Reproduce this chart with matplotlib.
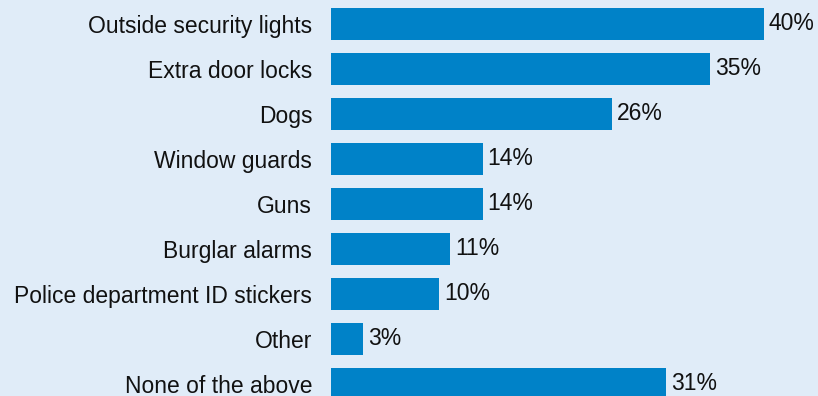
import matplotlib.pyplot as plt

plt.rcParams['font.family'] = ['Liberation Sans', 'DejaVu Sans']

measures = ["Outside security lights", "Extra door locks", "Dogs", "Window guards",
            "Guns", "Burglar alarms", "Police department ID stickers", "Other",
            "None of the above"]
percent = [40, 35, 26, 14, 14, 11, 10, 3, 31]

bg = "#e0ecf8"
bar_color = "#0082c8"

fig = plt.figure(figsize=(8.18, 3.96), dpi=100, facecolor=bg)
ax = fig.add_axes([331 / 818, 0, 487 / 818, 1])
ax.set_facecolor(bg)

pos = list(range(len(measures)))
ax.barh(pos, percent, height=0.71, color=bar_color)

for y, v in zip(pos, percent):
    ax.text(v + 0.45, y, f"{v}%", va="center", ha="left", fontsize=16.5, color="#111111")

ax.set_yticks(pos)
ax.set_yticklabels(measures, fontsize=16.5, color="#111111")
ax.tick_params(axis="y", length=0, pad=13.5)
ax.set_xticks([])
ax.set_xlim(0, 45)
ax.set_ylim(8.27, -0.53)
for s in ax.spines.values():
    s.set_visible(False)

fig.savefig("out.png", dpi=100, facecolor=bg)
